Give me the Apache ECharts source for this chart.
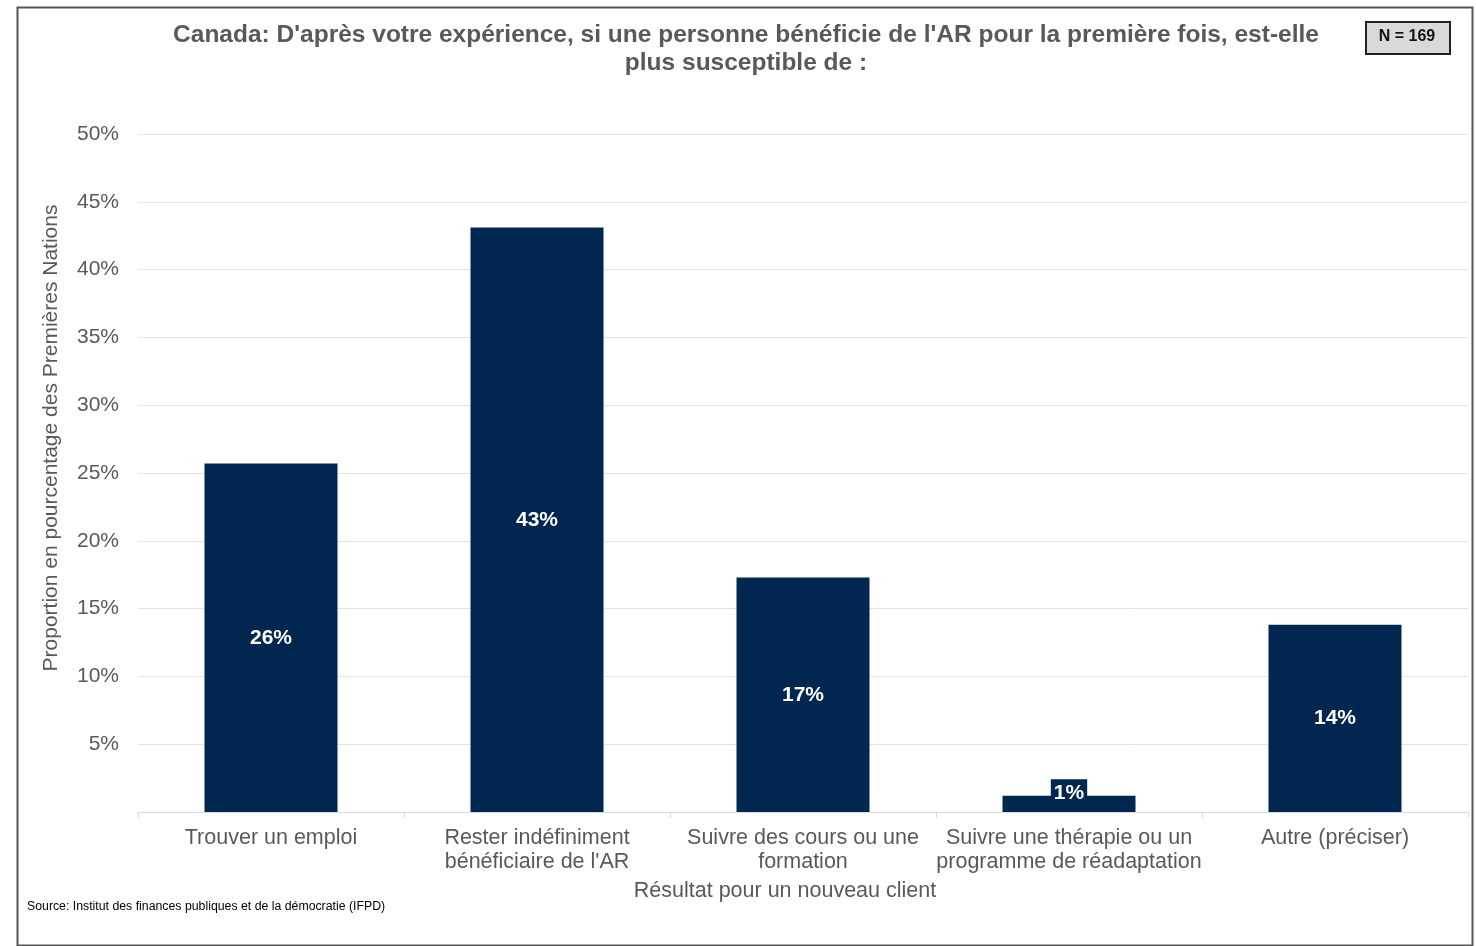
<!DOCTYPE html>
<html><head><meta charset="utf-8">
<script src="https://cdn.jsdelivr.net/npm/echarts@6/dist/echarts.min.js"></script>
<style>html,body{margin:0;padding:0;background:#fff}#c{width:1476px;height:946px}</style>
</head><body><div id="c"></div>
<script>
const categories = ["Trouver un emploi", "Rester indéfiniment\nbénéficiaire de l'AR", "Suivre des cours ou une\nformation", "Suivre une thérapie ou un\nprogramme de réadaptation", "Autre (préciser)"];
const values = [25.7, 43.1, 17.3, 1.2, 13.8];
const valueLabels = ["26%", "43%", "17%", "1%", "14%"];
const yTicks = [5, 10, 15, 20, 25, 30, 35, 40, 45, 50];
const titleText = "Canada: D'après votre expérience, si une personne bénéficie de l'AR pour la première fois, est-elle\nplus susceptible de :";
const yName = "Proportion en pourcentage des Premières Nations";
const xName = "Résultat pour un nouveau client";
const sourceText = "Source: Institut des finances publiques et de la démocratie (IFPD)";
const nText = "N = 169";

const FONT = "'Liberation Sans', Arial, sans-serif";
const chart = echarts.init(document.getElementById('c'), null, {renderer: 'canvas'});
chart.setOption({
  animation: false,
  backgroundColor: '#fff',
  title: {
    text: titleText, left: 741, top: 16, textAlign: 'center',
    textStyle: {fontFamily: FONT, fontSize: 24.5, fontWeight: 'bold', color: '#595959', lineHeight: 28, align: 'center'}
  },
  grid: {left: 138, right: 8, top: 134, bottom: 134},
  xAxis: {
    type: 'category', data: categories,
    axisLine: {show: true, lineStyle: {color: '#d9d9d9'}},
    axisTick: {show: true, length: 6, lineStyle: {color: '#d9d9d9'}},
    axisLabel: {fontFamily: FONT, fontSize: 21.5, color: '#595959', lineHeight: 24, margin: 14, interval: 0}
  },
  yAxis: {
    type: 'value', min: 0, max: 50, interval: 5,
    axisLine: {show: false}, axisTick: {show: false},
    splitLine: {lineStyle: {color: '#e3e3e3'}},
    axisLabel: {fontFamily: FONT, fontSize: 21, color: '#595959', margin: 19,
      formatter: v => yTicks.includes(v) ? v + '%' : ''}
  },
  series: [{
    type: 'bar', barWidth: '50%',
    data: values.map((v, i) => ({value: v, label: {formatter: valueLabels[i], offset: v < 3 ? [0, -11] : [0, 0]}})),
    itemStyle: {color: '#012650'},
    label: {show: true, position: 'inside', fontFamily: FONT, fontSize: 21, fontWeight: 'bold', color: '#fff',
      backgroundColor: '#012650', padding: [3, 3]}
  }],
  graphic: [
    {type: 'rect', left: 15, top: 5, shape: {width: 1455, height: 938}, style: {fill: 'none', stroke: '#555', lineWidth: 2}, silent: true},
    {type: 'text', x: 51, y: 438, rotation: Math.PI / 2, style: {text: yName, font: '21px ' + FONT, fill: '#595959', align: 'center', verticalAlign: 'middle'}},
    {type: 'text', x: 785, y: 891, style: {text: xName, font: '21.5px ' + FONT, fill: '#595959', align: 'center', verticalAlign: 'middle'}},
    {type: 'text', x: 27, y: 907, style: {text: sourceText, font: '12.3px ' + FONT, fill: '#000', align: 'left', verticalAlign: 'middle'}},
    {type: 'rect', shape: {x: 1366, y: 22, width: 84, height: 32}, style: {fill: '#d9d9d9', stroke: '#222', lineWidth: 2}},
    {type: 'text', x: 1407, y: 37, style: {text: nText, font: 'bold 16px ' + FONT, fill: '#111', align: 'center', verticalAlign: 'middle'}}
  ]
});
</script></body></html>
